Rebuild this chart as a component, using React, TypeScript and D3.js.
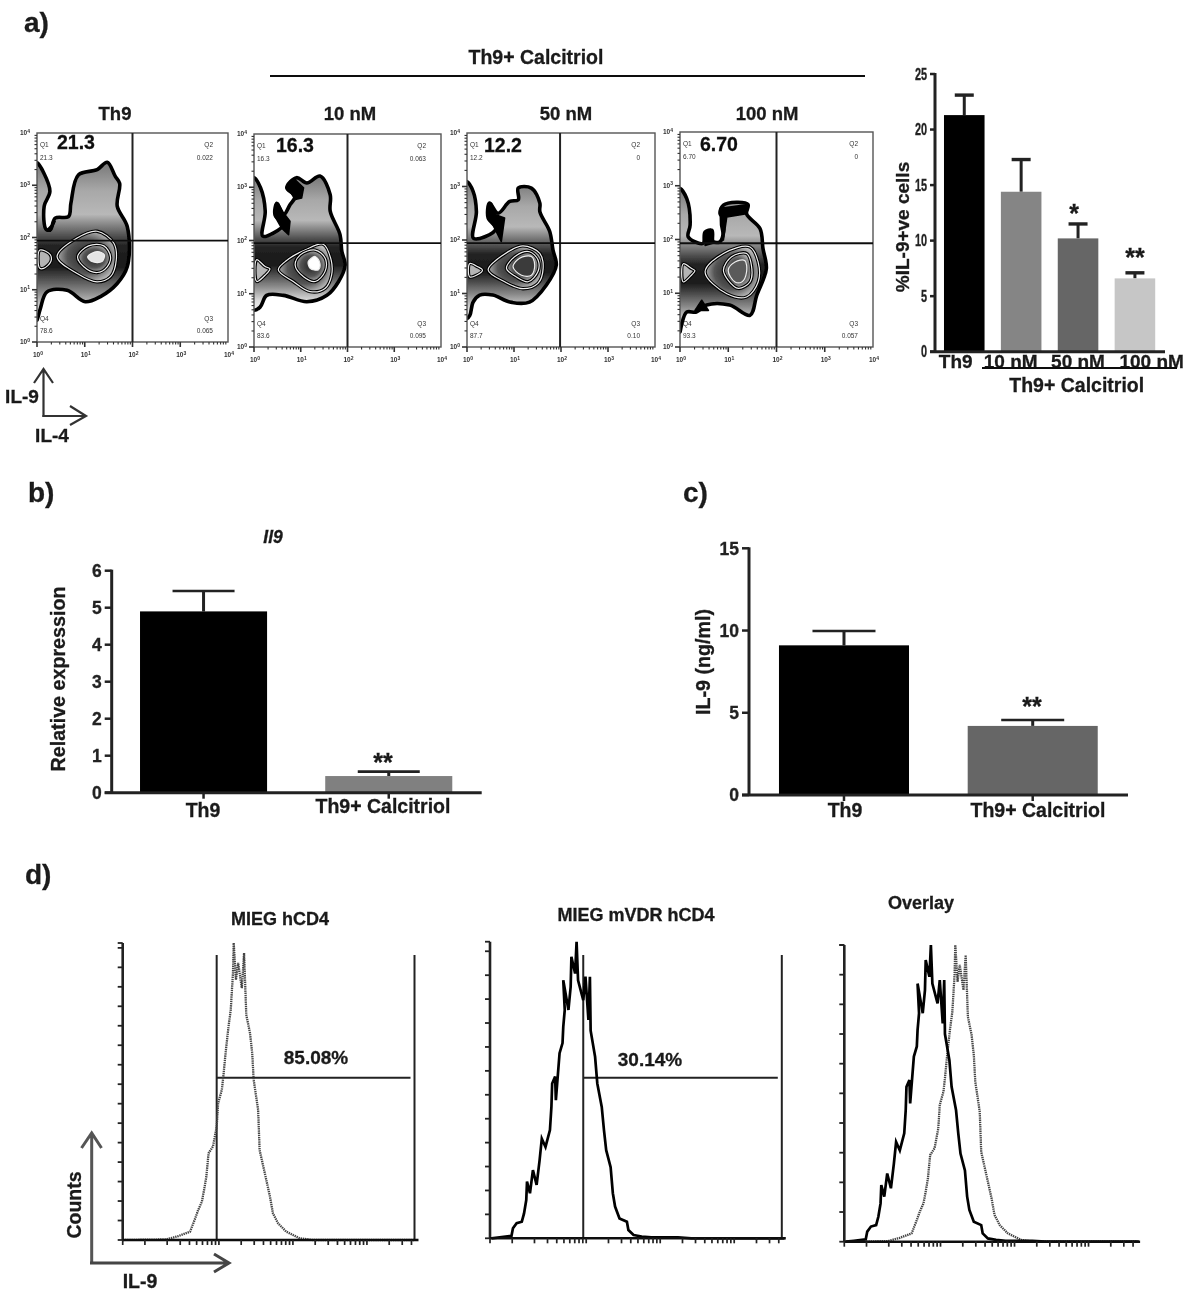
import React from "react";
import * as d3 from "d3";

const FONT = "'Liberation Sans', Arial, sans-serif";

// ---------- bar data ----------
const catsA = ["Th9", "10 nM", "50 nM", "100 nM"];
const meanA = [21.3, 14.4, 10.2, 6.6];
const topA = [23.1, 17.3, 11.5, 7.1];
const colorsA = ["#000000", "#858585", "#666666", "#c6c6c6"];
const ticksA = [0, 5, 10, 15, 20, 25];

const catsB = ["Th9", "Th9+ Calcitriol"];
const meanB = [4.9, 0.45];
const topB = [5.45, 0.57];
const colorsB = ["#000000", "#808080"];
const ticksB = [0, 1, 2, 3, 4, 5, 6];

const catsC = ["Th9", "Th9+ Calcitriol"];
const meanC = [9.1, 4.2];
const topC = [9.97, 4.56];
const colorsC = ["#000000", "#666666"];
const ticksC = [0, 5, 10, 15];

// ---------- flow (zebra) data: [log10 IL-4, log10 IL-9] ----------
type P = [number, number];
const outline1: P[] = [[0,3.43],[.14,3.24],[.27,2.88],[.15,2.6],[.2,2.15],[.28,2.15],[.38,2.37],[.66,2.4],[.71,2.66],[.87,3.2],[1.26,3.3],[1.47,3.44],[1.64,3.17],[1.73,3.04],[1.68,2.6],[1.89,2.21],[1.89,1.44],[1.68,1.12],[1.33,.87],[1.01,.77],[.63,.99],[.21,.96],[.07,.64],[0,.42]];
const ringA1: P[] = [[.42,1.63],[.84,1.99],[1.26,2.12],[1.61,1.89],[1.66,1.57],[1.54,1.25],[1.26,1.15],[.84,1.31]];
const ringB1: P[] = [[.85,1.63],[1.08,1.84],[1.4,1.84],[1.54,1.63],[1.47,1.44],[1.26,1.33],[.98,1.44]];
const ringC1: P[] = [[1.06,1.63],[1.26,1.73],[1.41,1.67],[1.36,1.54],[1.15,1.54]];
const blob1: P[] = [[.06,1.76],[.28,1.67],[.29,1.54],[.14,1.41],[.06,1.41]];
const spots1: P[][] = [[[.21,2.15],[.38,2.31],[.28,2.12]]];

const outline2: P[] = [[0,3.18],[.14,2.99],[.24,2.55],[.19,2.08],[.41,2.14],[.63,2.30],[.45,2.48],[.49,2.70],[.63,2.48],[.77,2.67],[.88,2.83],[.7,2.99],[.91,3.18],[1.13,3.08],[1.41,3.21],[1.63,2.86],[1.63,2.55],[1.84,2.11],[1.88,1.79],[1.95,1.54],[1.81,1.23],[1.56,.97],[1.13,.85],[.63,.97],[.27,.97],[.13,.75],[0,.69]];
const ringA2: P[] = [[.52,1.45],[.77,1.67],[1.09,1.82],[1.48,1.93],[1.64,1.67],[1.66,1.35],[1.52,1.1],[1.2,1.04],[.84,1.23]];
const ringB2: P[] = [[.88,1.54],[.99,1.73],[1.31,1.82],[1.52,1.67],[1.52,1.42],[1.31,1.23],[1.06,1.32]];
const ringC2: P[] = [[1.16,1.6],[1.31,1.7],[1.41,1.57],[1.38,1.45],[1.2,1.48]];
const blob2: P[] = [[.06,1.64],[.24,1.51],[.34,1.47],[.24,1.35],[.06,1.23]];
const spots2: P[][] = [[[.7,3.02],[.88,3.14],[1.06,2.99],[1.02,2.8],[.88,2.77]],[[.45,2.67],[.52,2.7],[.63,2.52],[.77,2.36],[.74,2.11],[.59,2.23],[.45,2.45]]];

const outline3: P[] = [[0,3.09],[.13,2.91],[.2,2.53],[.14,2.03],[.38,2.06],[.62,2.22],[.45,2.41],[.48,2.69],[.66,2.5],[.91,2.72],[1.09,2.75],[1.09,2.97],[1.37,2.97],[1.55,2.69],[1.55,2.53],[1.76,2.16],[1.83,1.81],[1.9,1.53],[1.69,1.16],[1.33,.84],[.91,.84],[.55,.97],[.27,.97],[.13,.84],[.06,.59],[0,.53]];
const ringA3: P[] = [[.45,1.44],[.77,1.72],[1.19,1.89],[1.55,1.75],[1.62,1.47],[1.51,1.19],[1.19,1.09],[.8,1.22]];
const ringB3: P[] = [[.84,1.47],[1.05,1.71],[1.33,1.78],[1.51,1.63],[1.51,1.41],[1.3,1.22],[1.05,1.31]];
const ringC3: P[] = [[.98,1.5],[1.12,1.66],[1.37,1.69],[1.44,1.53],[1.37,1.34],[1.16,1.34]];
const blob3: P[] = [[.06,1.56],[.23,1.5],[.33,1.44],[.2,1.34],[.06,1.31]];
const spots3: P[][] = [[[.45,2.66],[.52,2.69],[.62,2.47],[.8,2.41],[.73,1.97],[.62,2.16],[.48,2.41]]];

const outline4: P[] = [[0,2.95],[.14,2.76],[.21,2.27],[.17,2.05],[.48,1.93],[.52,2.14],[.66,2.17],[.69,1.96],[.83,1.96],[.9,2.39],[.83,2.48],[.9,2.64],[1.41,2.65],[1.38,2.48],[1.66,2.2],[1.72,1.83],[1.79,1.46],[1.59,.96],[1.45,.59],[1.03,.78],[.55,.78],[.34,.65],[.14,.65],[.03,.4],[0,.28]];
const ringA4: P[] = [[.52,1.4],[.9,1.74],[1.45,1.86],[1.62,1.58],[1.62,1.21],[1.38,.93],[.97,.99]];
const ringB4: P[] = [[.9,1.43],[1.07,1.68],[1.38,1.74],[1.48,1.52],[1.45,1.21],[1.21,1.09],[1.0,1.24]];
const ringC4: P[] = [[1.0,1.43],[1.14,1.58],[1.34,1.61],[1.38,1.4],[1.28,1.21],[1.14,1.21]];
const blob4: P[] = [[.07,1.55],[.24,1.46],[.31,1.42],[.24,1.34],[.07,1.21]];
const spots4: P[][] = [[[.83,2.58],[1.41,2.65],[1.38,2.48],[.97,2.42],[.9,1.99],[.84,2.27]],[[.54,2.14],[.63,2.19],[.68,1.93],[.52,1.89]],[[.31,.68],[.45,.87],[.59,.68]]];

const flowTitles = ["Th9", "10 nM", "50 nM", "100 nM"];
const flowBig = ["21.3", "16.3", "12.2", "6.70"];
const q1Vals = ["21.3", "16.3", "12.2", "6.70"];
const q2Vals = ["0.022", "0.063", "0", "0"];
const q3Vals = ["0.065", "0.095", "0.10", "0.057"];
const q4Vals = ["78.6", "83.6", "87.7", "93.3"];

// ---------- histogram data: [log10 IL-9, fraction of axis height] ----------
const solidHist: P[] = [[-.28,0],[-.17,.003],[-.01,.008],[.01,.034],[.06,.051],[.13,.056],[.16,.084],[.19,.129],[.2,.191],[.24,.152],[.28,.23],[.33,.18],[.37,.263],[.40,.336],[.45,.308],[.51,.365],[.53,.444],[.54,.522],[.58,.545],[.59,.466],[.64,.624],[.68,.658],[.69,.713],[.71,.77],[.69,.87],[.76,.77],[.79,.848],[.80,.949],[.85,.893],[.87,1.0],[.89,.87],[.96,.803],[.99,.882],[1.03,.736],[1.05,.882],[1.06,.70],[1.12,.612],[1.15,.522],[1.21,.443],[1.24,.365],[1.27,.297],[1.33,.24],[1.36,.152],[1.39,.107],[1.45,.067],[1.55,.056],[1.57,.028],[1.64,.011],[1.75,.006],[1.88,.003],[2.24,.003],[2.42,0],[3.68,0]];
const dottedHist: P[] = [[-.30,0],[.29,.002],[.45,.013],[.61,.028],[.68,.073],[.72,.101],[.77,.129],[.80,.169],[.83,.213],[.86,.292],[.92,.315],[.97,.382],[.99,.461],[1.04,.506],[1.06,.551],[1.09,.629],[1.13,.719],[1.16,.775],[1.19,.899],[1.2,1.0],[1.23,.876],[1.26,.933],[1.31,.848],[1.34,.966],[1.37,.758],[1.42,.697],[1.45,.629],[1.47,.539],[1.53,.438],[1.55,.303],[1.62,.225],[1.69,.146],[1.73,.09],[1.80,.056],[1.91,.028],[2.09,.006],[2.27,0],[3.65,0]];

const decades = [0, 1, 2, 3];
const minorMult = [1, 2, 3, 4, 5, 6, 7, 8, 9];

// ---------- helpers ----------
const T = (p: any) => {
  const { children, ...r } = p;
  return (
    <text fontFamily={FONT} fontWeight="bold" fill="#1a1a1a" stroke="#1a1a1a" strokeWidth={0.3} fontSize={19.5} {...r}>
      {children}
    </text>
  );
};

function Bars(p: any) {
  const y = d3.scaleLinear().domain(p.domain).range([p.y0, p.y1]);
  const x = d3.scaleBand<string>().domain(p.cats.map((_: string, i: number) => String(i))).range(p.bandRange).paddingInner(p.pi).paddingOuter(p.po);
  return (
    <g>
      {p.means.map((m: number, i: number) => {
        const bx = x(String(i))!;
        const cx = bx + x.bandwidth() / 2;
        return (
          <g key={i}>
            <line x1={cx} x2={cx} y1={y(p.tops[i])} y2={y(m)} stroke="#222" strokeWidth={p.stem} />
            <line x1={cx - p.cap / 2} x2={cx + p.cap / 2} y1={y(p.tops[i])} y2={y(p.tops[i])} stroke="#222" strokeWidth={p.capW} />
            <rect x={bx} y={y(m)} width={x.bandwidth()} height={p.y0 - y(m)} fill={p.colors[i]} />
            {p.xticks ? <line x1={cx} x2={cx} y1={p.y0} y2={p.y0 + 6} stroke="#222" strokeWidth={2.5} /> : null}
          </g>
        );
      })}
      <line x1={p.axisX} x2={p.axisX} y1={p.y0 + 1} y2={p.y1 - 1} stroke="#222" strokeWidth={3} />
      <line x1={p.axisX - p.tick} x2={p.axisEnd} y1={p.y0} y2={p.y0} stroke="#222" strokeWidth={3} />
      {p.ticks.map((t: number) => (
        <g key={t}>
          <line x1={p.axisX - p.tick} x2={p.axisX} y1={y(t)} y2={y(t)} stroke="#222" strokeWidth={2.5} />
          <text transform={`translate(${p.axisX - p.tick - 3} ${y(t) + p.tickSize * 0.36}) scale(${p.narrow ? 0.68 : 1} 1)`} textAnchor="end" fontFamily={FONT} fontWeight="bold" fontSize={p.tickSize} fill="#222" stroke="#222" strokeWidth={0.3}>
            {t}
          </text>
        </g>
      ))}
    </g>
  );
}

const closed = d3.line().curve(d3.curveCatmullRomClosed.alpha(0.6));
const polyPath = d3.line().curve(d3.curveLinearClosed);

function FlowPanel(p: any) {
  const x = d3.scaleLinear().domain([0, 4]).range([p.x0, p.x1]);
  const y = d3.scaleLinear().domain([0, 4]).range([p.yb, p.yt]);
  const pts2 = (pts: P[]) => pts.map(([u, v]) => [x(u), y(v)] as [number, number]);
  const toPath = (pts: P[]) => closed(pts2(pts)) as string;
  const minor: number[] = [];
  decades.forEach((d) => minorMult.forEach((k) => minor.push(d + Math.log10(k))));
  const gid = `g${p.idx}`;
  const Ring = ({ pts, fill }: any) => (
    <g>
      <path d={toPath(pts)} fill={fill} stroke="#000" strokeWidth={3.4} />
      <path d={toPath(pts)} fill="none" stroke="#f0f0f0" strokeWidth={1.2} />
    </g>
  );
  return (
    <g>
      <defs>
        <linearGradient id={gid} x1="0" y1="0" x2="0" y2="1">
          <stop offset="0" stopColor="#777" />
          <stop offset="0.18" stopColor="#a8a8a8" />
          <stop offset="0.33" stopColor="#b8b8b8" />
          <stop offset="0.46" stopColor="#555" />
          <stop offset="0.53" stopColor="#222" />
          <stop offset="0.66" stopColor="#1a1a1a" />
          <stop offset="0.82" stopColor="#888" />
          <stop offset="0.93" stopColor="#ddd" />
          <stop offset="1" stopColor="#eee" />
        </linearGradient>
        <radialGradient id="ringFill" cx="0.5" cy="0.5" r="0.55">
          <stop offset="0" stopColor="#222" />
          <stop offset="0.6" stopColor="#555" />
          <stop offset="1" stopColor="#c4c4c4" />
        </radialGradient>
        <clipPath id={`clip${p.idx}`}>
          <rect x={p.x0} y={p.yt} width={p.x1 - p.x0} height={p.yb - p.yt} />
        </clipPath>
      </defs>
      <g clipPath={`url(#clip${p.idx})`}>
        <path d={toPath(p.outline)} fill={`url(#${gid})`} stroke="#000" strokeWidth={3.6} strokeLinejoin="round" />
        <Ring pts={p.blob} fill="#b5b5b5" />
        <Ring pts={p.ringA} fill="url(#ringFill)" />
        <Ring pts={p.ringB} fill="url(#ringFill)" />
        <path d={toPath(p.ringC)} fill={p.center} stroke="#eee" strokeWidth={1.2} />
        {p.spots.map((s: P[], i: number) => <path key={i} d={polyPath(pts2(s)) as string} fill="#000" stroke="#000" strokeWidth={1.5} strokeLinejoin="round" />)}
      </g>
      <rect x={p.x0} y={p.yt} width={p.x1 - p.x0} height={p.yb - p.yt} fill="none" stroke="#555" strokeWidth={1.4} />
      <line x1={x(p.gu)} x2={x(p.gu)} y1={p.yt} y2={p.yb} stroke="#222" strokeWidth={2} />
      <line x1={p.x0} x2={p.x1} y1={y(p.gv)} y2={y(p.gv)} stroke="#111" strokeWidth={1.8} />
      {minor.map((m) => (
        <g key={m} stroke="#333">
          <line x1={x(m)} x2={x(m)} y1={p.yb} y2={p.yb + (Number.isInteger(m) ? 5 : 2.5)} strokeWidth={Number.isInteger(m) ? 1.6 : 1.1} />
          <line x2={p.x0} x1={p.x0 - (Number.isInteger(m) ? 5 : 2.5)} y1={y(m)} y2={y(m)} strokeWidth={Number.isInteger(m) ? 1.6 : 1.1} />
        </g>
      ))}
      {[0, 1, 2, 3, 4].map((d) => (
        <g key={d} fontFamily={FONT} fill="#333" fontSize={6.5} fontWeight="bold">
          <text x={x(d) - 4} y={p.yb + 15} textAnchor="start">
            10<tspan dy={-2.5} fontSize={5}>{d}</tspan>
          </text>
          <text x={p.x0 - 7} y={y(d) + 2} textAnchor="end">
            10<tspan dy={-2.5} fontSize={5}>{d}</tspan>
          </text>
        </g>
      ))}
      <g fontFamily={FONT} fill="#333" fontSize={6.5}>
        <text x={p.x0 + 3} y={p.yt + 14}>Q1</text>
        <text x={p.x0 + 3} y={p.yt + 27}>{q1Vals[p.idx]}</text>
        <text x={p.x1 - 15} y={p.yt + 14} textAnchor="end">Q2</text>
        <text x={p.x1 - 15} y={p.yt + 27} textAnchor="end">{q2Vals[p.idx]}</text>
        <text x={p.x1 - 15} y={p.yb - 21} textAnchor="end">Q3</text>
        <text x={p.x1 - 15} y={p.yb - 9} textAnchor="end">{q3Vals[p.idx]}</text>
        <text x={p.x0 + 3} y={p.yb - 21}>Q4</text>
        <text x={p.x0 + 3} y={p.yb - 9}>{q4Vals[p.idx]}</text>
      </g>
      <T x={p.bigX} y={p.bigY} fontSize={19.5} fill="#111">{flowBig[p.idx]}</T>
      <T x={p.titleX} y={120} textAnchor="middle" fontSize={18.5}>{flowTitles[p.idx]}</T>
    </g>
  );
}

function Hist(p: any) {
  const x = d3.scaleLinear().domain([-0.3, 3.67]).range(p.xr);
  const y = d3.scaleLinear().domain([0, p.yMax]).range([p.yb, p.yt]);
  const line = d3.line<P>().x((d) => x(d[0])).y((d) => y(d[1] * p.yMax));
  const xt: number[] = [-0.3];
  decades.forEach((d) => minorMult.forEach((k) => { const u = d + Math.log10(k); if (u < 3.67) xt.push(u); }));
  const yTicks = d3.range(0, p.yMax + 0.1, p.step);
  return (
    <g>
      {p.gate ? (
        <g stroke="#222" strokeWidth={2}>
          <line x1={x(p.gate)} x2={x(p.gate)} y1={955} y2={p.yb} />
          <line x1={p.xr[1] - 2} x2={p.xr[1] - 2} y1={955} y2={p.yb} />
          <line x1={x(p.gate)} x2={p.xr[1] - 6} y1={1077.7} y2={1077.7} />
        </g>
      ) : null}
      {p.dotted ? <path d={line(dottedHist)!} fill="none" stroke="#444" strokeWidth={2.3} strokeDasharray="1.4 0.8" /> : null}
      {p.solid ? <path d={line(solidHist)!} fill="none" stroke="#000" strokeWidth={2.7} /> : null}
      <line x1={p.xr[0]} x2={p.xr[0]} y1={p.yb} y2={p.yt} stroke="#222" strokeWidth={2.6} />
      <line x1={p.xr[0]} x2={p.xr[1] + 2} y1={p.yb} y2={p.yb} stroke="#111" strokeWidth={2.4} />
      {yTicks.map((t: number) => (
        <line key={t} x1={p.xr[0] - 5} x2={p.xr[0]} y1={y(t)} y2={y(t)} stroke="#222" strokeWidth={1.8} />
      ))}
      <line x1={p.xr[0] - 5} x2={p.xr[0]} y1={p.yt} y2={p.yt} stroke="#222" strokeWidth={1.8} />
      {xt.map((u) => (
        <line key={u} x1={x(u)} x2={x(u)} y1={p.yb} y2={p.yb + 5} stroke="#222" strokeWidth={1.7} />
      ))}
    </g>
  );
}

function Arrow({ d, color, w }: any) {
  return <path d={d} fill="none" stroke={color} strokeWidth={w} strokeLinejoin="miter" />;
}

export default function App() {
  const flows = [
    { x0: 37, x1: 228, yb: 342, yt: 133, gu: 2, gv: 1.94, outline: outline1, ringA: ringA1, ringB: ringB1, ringC: ringC1, blob: blob1, spots: spots1, center: "#e4e4e4", bigX: 57, bigY: 149, titleX: 115 },
    { x0: 254, x1: 441, yb: 347, yt: 134, gu: 2, gv: 1.95, outline: outline2, ringA: ringA2, ringB: ringB2, ringC: ringC2, blob: blob2, spots: spots2, center: "#ffffff", bigX: 276, bigY: 152, titleX: 350 },
    { x0: 467, x1: 655, yb: 347, yt: 133, gu: 1.98, gv: 1.94, outline: outline3, ringA: ringA3, ringB: ringB3, ringC: ringC3, blob: blob3, spots: spots3, center: "#3a3a3a", bigX: 484, bigY: 152, titleX: 566 },
    { x0: 680, x1: 873, yb: 347, yt: 132, gu: 2.0, gv: 1.93, outline: outline4, ringA: ringA4, ringB: ringB4, ringC: ringC4, blob: blob4, spots: spots4, center: "#5a5a5a", bigX: 700, bigY: 151, titleX: 767 },
  ];
  return (
    <svg width={1187} height={1292} viewBox="0 0 1187 1292" style={{ position: "absolute", left: 0, top: 0, background: "#fff" }}>
      <defs>
        <filter id="soft" x="0" y="0" width="100%" height="100%">
          <feGaussianBlur stdDeviation="0.55" />
        </filter>
      </defs>
      <rect width={1187} height={1292} fill="#fff" />
      <g filter="url(#soft)">
        <T x={24} y={32} fontSize={28}>a)</T>
        <T x={28} y={502} fontSize={28}>b)</T>
        <T x={683} y={502} fontSize={28}>c)</T>
        <T x={25} y={884} fontSize={28}>d)</T>

        <T x={536} y={64} textAnchor="middle">Th9+ Calcitriol</T>
        <line x1={270} x2={865} y1={76} y2={76} stroke="#111" strokeWidth={2} />
        {flows.map((f, i) => <FlowPanel key={i} idx={i} {...f} />)}

        <Arrow d="M43.5 417V369M34 383L43.5 369L53 383" color="#333" w={2.2} />
        <Arrow d="M42.5 416H86M70 406L86 416L70 425" color="#333" w={2.2} />
        <T x={22} y={403} textAnchor="middle" fontSize={19}>IL-9</T>
        <T x={52} y={442} textAnchor="middle" fontSize={19}>IL-4</T>

        {/* a bars */}
        <Bars cats={catsA} means={meanA} tops={topA} colors={colorsA} domain={[0, 25]} y0={351.7} y1={74} bandRange={[938.3, 1160.9]} pi={0.287} po={0.1} axisX={935} axisEnd={1165} tick={5} ticks={ticksA} tickSize={16} narrow stem={3} capW={3.4} cap={19} />
        <T transform="translate(909 227) rotate(-90)" textAnchor="middle" fontSize={19}>%IL-9+ve cells</T>
        {catsA.map((c, i) => (
          <T key={c} x={[955.7, 1010.7, 1078, 1151.7][i]} y={368} textAnchor="middle" fontSize={19}>{c}</T>
        ))}
        <line x1={982} x2={1177} y1={368} y2={368} stroke="#111" strokeWidth={2} />
        <T x={1076.7} y={392} textAnchor="middle">Th9+ Calcitriol</T>
        <T x={1074} y={222} textAnchor="middle" fontSize={25}>*</T>
        <T x={1135} y={266} textAnchor="middle" fontSize={25}>**</T>

        {/* b bars */}
        <T x={273} y={543} textAnchor="middle" fontSize={17.5} fontStyle="italic">Il9</T>
        <Bars cats={catsB} means={meanB} tops={topB} colors={colorsB} domain={[0, 6]} y0={792.7} y1={570.7} bandRange={[121.5, 470.8]} pi={0.314} po={0.1} axisX={111.7} axisEnd={481.7} tick={7} ticks={ticksB} tickSize={17.5} stem={3} capW={2.6} cap={62} xticks />
        <T transform="translate(65 679) rotate(-90)" textAnchor="middle" fontSize={19.7}>Relative expression</T>
        <T x={203} y={817} textAnchor="middle">Th9</T>
        <T x={383} y={813} textAnchor="middle">Th9+ Calcitriol</T>
        <T x={383} y={771} textAnchor="middle" fontSize={25}>**</T>

        {/* c bars */}
        <Bars cats={catsC} means={meanC} tops={topC} colors={colorsC} domain={[0, 15]} y0={795} y1={548.3} bandRange={[760.1, 1116.6]} pi={0.311} po={0.1} axisX={749} axisEnd={1128} tick={7} ticks={ticksC} tickSize={17.5} stem={3} capW={2.6} cap={63} xticks />
        <T transform="translate(710 662) rotate(-90)" textAnchor="middle" fontSize={19.7}>IL-9 (ng/ml)</T>
        <T x={845} y={817} textAnchor="middle">Th9</T>
        <T x={1038} y={817} textAnchor="middle">Th9+ Calcitriol</T>
        <T x={1032} y={715} textAnchor="middle" fontSize={25}>**</T>

        {/* d histograms */}
        <T x={280} y={925} textAnchor="middle" fontSize={18}>MIEG hCD4</T>
        <T x={636} y={921} textAnchor="middle" fontSize={18}>MIEG mVDR hCD4</T>
        <T x={921} y={909} textAnchor="middle" fontSize={18}>Overlay</T>
        <Hist xr={[122.7, 416.5]} yb={1240} yt={943} yMax={305} step={20} dotted gate={0.97} />
        <Hist xr={[490, 783.8]} yb={1238.3} yt={941.7} yMax={248} step={20} solid gate={0.96} />
        <Hist xr={[844.3, 1138.1]} yb={1241.7} yt={945} yMax={200} step={20} dotted solid />
        <T x={316} y={1064} textAnchor="middle" fontSize={19}>85.08%</T>
        <T x={650} y={1066} textAnchor="middle" fontSize={19}>30.14%</T>
        <Arrow d="M91.7 1264V1133M81.5 1148L91.7 1133L101.5 1148" color="#555" w={3} />
        <Arrow d="M90 1263H229M214 1254L229 1263L214 1272" color="#444" w={3} />
        <T transform="translate(81 1205) rotate(-90)" textAnchor="middle">Counts</T>
        <T x={140} y={1288} textAnchor="middle">IL-9</T>
      </g>
    </svg>
  );
}
